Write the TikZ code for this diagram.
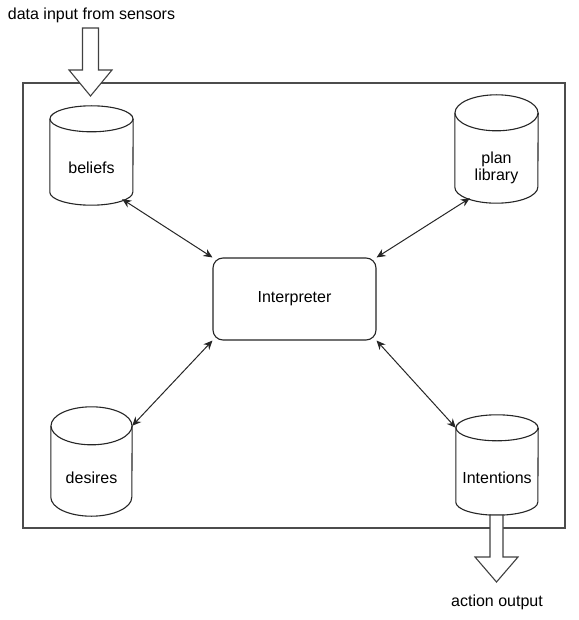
\documentclass[tikz,border=0pt]{standalone}
\usepackage{fontspec}
\setmainfont{Liberation Sans}
\usetikzlibrary{arrows.meta}
\begin{document}
\begin{tikzpicture}[x=1pt,y=-1pt,
  every node/.style={font=\fontsize{16}{19}\selectfont},
  cylbody/.style={rectangle,draw=none,inner sep=0pt},
  lbl/.style={align=center,inner sep=1pt},
  shp/.style={draw=black!85,line width=1.1pt,fill=white},
  conn/.style={draw=black!85,line width=1pt,{Stealth[length=9pt,width=8pt]}-{Stealth[length=9pt,width=8pt]}},
  blockarrow/.style={draw=black!75,line width=1.1pt,fill=white},
  frame/.style={draw=black!70,line width=1.5pt}]
\useasboundingbox (0,0) rectangle (578,620);
% outer frame
\node[frame,rectangle,inner sep=0pt,minimum width=542pt,minimum height=445pt] (agent) at (294,305.5) {};
% cylinders
\node[cylbody,minimum width=83pt,minimum height=99pt] (beliefs) at (91.5,155.5) {};
\draw[shp] ([yshift=-13pt]beliefs.north west) -- ([yshift=13pt]beliefs.south west)
  arc[start angle=180,end angle=360,x radius=41.5pt,y radius=13pt] -- ([yshift=-13pt]beliefs.north east);
\draw[shp] ([yshift=-13pt]beliefs.north) ellipse[x radius=41.5pt,y radius=13pt];
\node[lbl] (beliefsT) at (91.5,168) {beliefs};

\node[cylbody,minimum width=83pt,minimum height=108pt] (plan) at (496.5,149) {};
\draw[shp] ([yshift=-18pt]plan.north west) -- ([yshift=16pt]plan.south west)
  arc[start angle=180,end angle=360,x radius=41.5pt,y radius=16pt] -- ([yshift=-18pt]plan.north east);
\draw[shp] ([yshift=-18pt]plan.north) ellipse[x radius=41.5pt,y radius=18pt];
\node[lbl] (planT) at (496.5,168) {plan\\[-2pt]library};

\node[cylbody,minimum width=81pt,minimum height=109pt] (desires) at (91.5,461.5) {};
\draw[shp] ([yshift=-19pt]desires.north west) -- ([yshift=19pt]desires.south west)
  arc[start angle=180,end angle=360,x radius=40.5pt,y radius=19pt] -- ([yshift=-19pt]desires.north east);
\draw[shp] ([yshift=-19pt]desires.north) ellipse[x radius=40.5pt,y radius=19pt];
\node[lbl] (desiresT) at (91.5,478) {desires};

\node[cylbody,minimum width=82pt,minimum height=100pt] (intentions) at (497,465) {};
\draw[shp] ([yshift=-13pt]intentions.north west) -- ([yshift=13pt]intentions.south west)
  arc[start angle=180,end angle=360,x radius=41pt,y radius=13pt] -- ([yshift=-13pt]intentions.north east);
\draw[shp] ([yshift=-13pt]intentions.north) ellipse[x radius=41pt,y radius=13pt];
\node[lbl] (intentionsT) at (497,478) {Intentions};

% interpreter
\node[shp,rectangle,rounded corners=10pt,minimum width=163pt,minimum height=82pt] (interp) at (294.5,299) {Interpreter};

% connectors
\draw[conn] ([shift={(-11pt,6pt)}]beliefs.south east) -- (interp.north west);
\draw[conn] ([shift={(15pt,5pt)}]plan.south west) -- (interp.north east);
\draw[conn] ([yshift=-19pt]desires.north east) -- (interp.south west);
\draw[conn] ([yshift=-13pt]intentions.north west) -- (interp.south east);

% input block arrow
\node[lbl] (inputT) at (91.5,15) {data input from sensors};
\coordinate (inTip) at (90.5,96);
\draw[blockarrow] ([shift={(-8pt,68pt)}]inTip) -- ([shift={(8pt,68pt)}]inTip) -- ([shift={(8pt,26pt)}]inTip)
  -- ([shift={(21.5pt,26pt)}]inTip) -- (inTip) -- ([shift={(-21.5pt,26pt)}]inTip) -- ([shift={(-8pt,26pt)}]inTip) -- cycle;

% output block arrow
\node[lbl] (outputT) at (497,602) {action output};
\coordinate (outTip) at (496.5,582);
\draw[blockarrow] ([shift={(-6.5pt,67pt)}]outTip) -- ([shift={(6.5pt,67pt)}]outTip) -- ([shift={(6.5pt,25pt)}]outTip)
  -- ([shift={(21.5pt,25pt)}]outTip) -- (outTip) -- ([shift={(-21.5pt,25pt)}]outTip) -- ([shift={(-6.5pt,25pt)}]outTip) -- cycle;
\end{tikzpicture}
\end{document}
